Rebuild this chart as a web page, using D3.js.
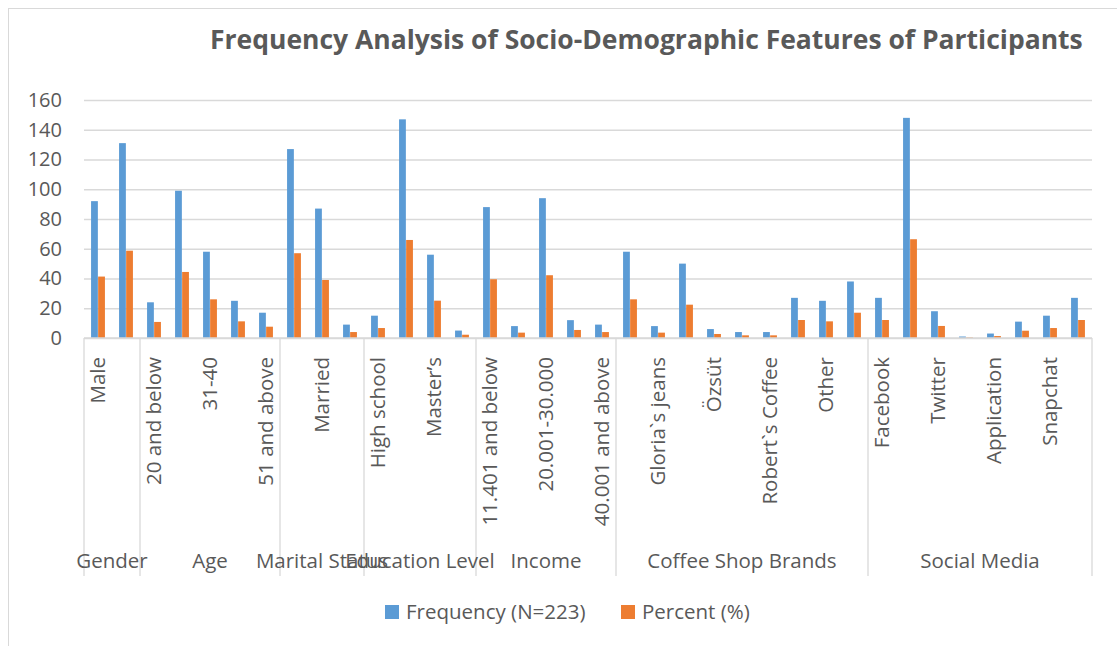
<!DOCTYPE html>
<html>
<head>
<meta charset="utf-8">
<script src="https://cdn.jsdelivr.net/npm/d3@7"></script>
<style>
  html, body { margin: 0; padding: 0; background: #fff; }
  svg { display: block; }
  text { font-family: "Open Sans", "Noto Sans", sans-serif; fill: #595959; }
</style>
</head>
<body>
<svg id="chart" width="1117" height="646"></svg>
<script>
// ---------- data ----------
const categories = [
  "Male","Female",
  "20 and below","21-30","31-40","41-50","51 and above",
  "Single","Married","Other",
  "High school","Bachelor’s","Master’s","PhD",
  "11.401 and below","11.401-20.000","20.001-30.000","30.001-40.000","40.001 and above",
  "Starbucks","Gloria`s jeans","Kahve Dünyası","Özsüt","Caribou","Robert`s Coffee","Tchibo","Other","None",
  "Facebook","Instagram","Twitter","YouTube","Application","WhatsApp","Snapchat","Other"
];
const groupNames = ["Gender","Age","Marital Status","Education Level","Income","Coffee Shop Brands","Social Media"];
const groupSizes = [2, 5, 3, 4, 5, 9, 8];
const frequency = [
  92, 131,
  24, 99, 58, 25, 17,
  127, 87, 9,
  15, 147, 56, 5,
  88, 8, 94, 12, 9,
  58, 8, 50, 6, 4, 4, 27, 25, 38,
  27, 148, 18, 1, 3, 11, 15, 27
];
const percent = [
  41.3, 58.7,
  10.8, 44.4, 26.0, 11.2, 7.6,
  57.0, 39.0, 4.0,
  6.7, 65.9, 25.1, 2.2,
  39.5, 3.6, 42.2, 5.4, 4.0,
  26.0, 3.6, 22.4, 2.7, 1.8, 1.8, 12.1, 11.2, 17.0,
  12.1, 66.4, 8.1, 0.4, 1.3, 4.9, 6.7, 12.1
];
const seriesNames = ["Frequency (N=223)", "Percent (%)"];
const yTicks = [0, 20, 40, 60, 80, 100, 120, 140, 160];
const titleText = "Frequency Analysis of Socio-Demographic Features of Participants";

// ---------- layout ----------
const colors = ["#5B9BD5", "#ED7D31"];
const gridColor = "#D9D9D9";
const plot = { left: 84, right: 1092, top: 100, bottom: 338 };
const svg = d3.select("#chart");

// chart frame
svg.append("line").attr("x1", 8).attr("x2", 1117).attr("y1", 8.5).attr("y2", 8.5)
  .attr("stroke", gridColor).attr("stroke-width", 1);
svg.append("line").attr("x1", 8.5).attr("x2", 8.5).attr("y1", 8).attr("y2", 646)
  .attr("stroke", gridColor).attr("stroke-width", 1);

const idx = d3.range(categories.length);
const x = d3.scaleBand().domain(idx).range([plot.left, plot.right]).paddingInner(0).paddingOuter(0);
const y = d3.scaleLinear().domain([0, 160]).range([plot.bottom, plot.top]);
const inner = d3.scaleBand().domain([0, 1]).range([0, x.bandwidth()]).paddingInner(0.04).paddingOuter(1.0);

// gridlines
const yAxis = d3.axisLeft(y).tickValues(yTicks).tickSize(-(plot.right - plot.left)).tickPadding(22).tickFormat(d3.format("d"));
const gy = svg.append("g").attr("transform", `translate(${plot.left},0)`).call(yAxis);
gy.select(".domain").remove();
gy.selectAll(".tick line").attr("stroke", gridColor).attr("stroke-width", 1.3);
gy.selectAll(".tick text").attr("font-size", 20).style("fill", "#595959")
  .attr("font-family", "'Open Sans', sans-serif");

// bars
const series = [frequency, percent];
series.forEach((vals, s) => {
  svg.append("g").selectAll("rect").data(idx).join("rect")
    .attr("x", i => x(i) + inner(s))
    .attr("width", inner.bandwidth())
    .attr("y", i => y(vals[i]))
    .attr("height", i => y(0) - y(vals[i]))
    .attr("fill", colors[s]);
});

// category axis line
svg.append("line").attr("x1", plot.left).attr("x2", plot.right)
  .attr("y1", plot.bottom).attr("y2", plot.bottom)
  .attr("stroke", gridColor).attr("stroke-width", 1.3);

// group boundaries
const bounds = [0];
groupSizes.forEach(n => bounds.push(bounds[bounds.length - 1] + n));
svg.append("g").selectAll("line").data(bounds).join("line")
  .attr("x1", b => b < categories.length ? x(b) : plot.right)
  .attr("x2", b => b < categories.length ? x(b) : plot.right)
  .attr("y1", plot.bottom).attr("y2", 576)
  .attr("stroke", gridColor).attr("stroke-width", 1.3);

// category labels (every other one, like Excel's skip interval)
svg.append("g").selectAll("text").data(idx.filter(i => i % 2 === 0)).join("text")
  .attr("transform", i => `translate(${x(i) + x.bandwidth() / 2},357) rotate(-90)`)
  .attr("text-anchor", "end")
  .attr("dy", "0.36em")
  .attr("font-size", 20.5)
  .text(i => categories[i]);

// group labels
svg.append("g").selectAll("text").data(groupNames).join("text")
  .attr("x", (g, k) => (x(bounds[k]) + (bounds[k + 1] < categories.length ? x(bounds[k + 1]) : plot.right)) / 2)
  .attr("y", 568)
  .attr("text-anchor", "middle")
  .attr("font-size", 20.5)
  .text(g => g);

// title
const title = svg.append("text").attr("x", 210).attr("y", 49)
  .attr("font-weight", "bold").attr("font-size", 24).text(titleText);
const tw = title.node().getComputedTextLength();
title.attr("font-size", 24 * 873 / tw);

// legend
const legendX = [385, 621];
const lg = svg.append("g");
seriesNames.forEach((name, s) => {
  lg.append("rect").attr("x", legendX[s]).attr("y", 605).attr("width", 14).attr("height", 14).attr("fill", colors[s]);
  lg.append("text").attr("x", legendX[s] + 21).attr("y", 619).attr("font-size", 20.5).text(name);
});
</script>
</body>
</html>
